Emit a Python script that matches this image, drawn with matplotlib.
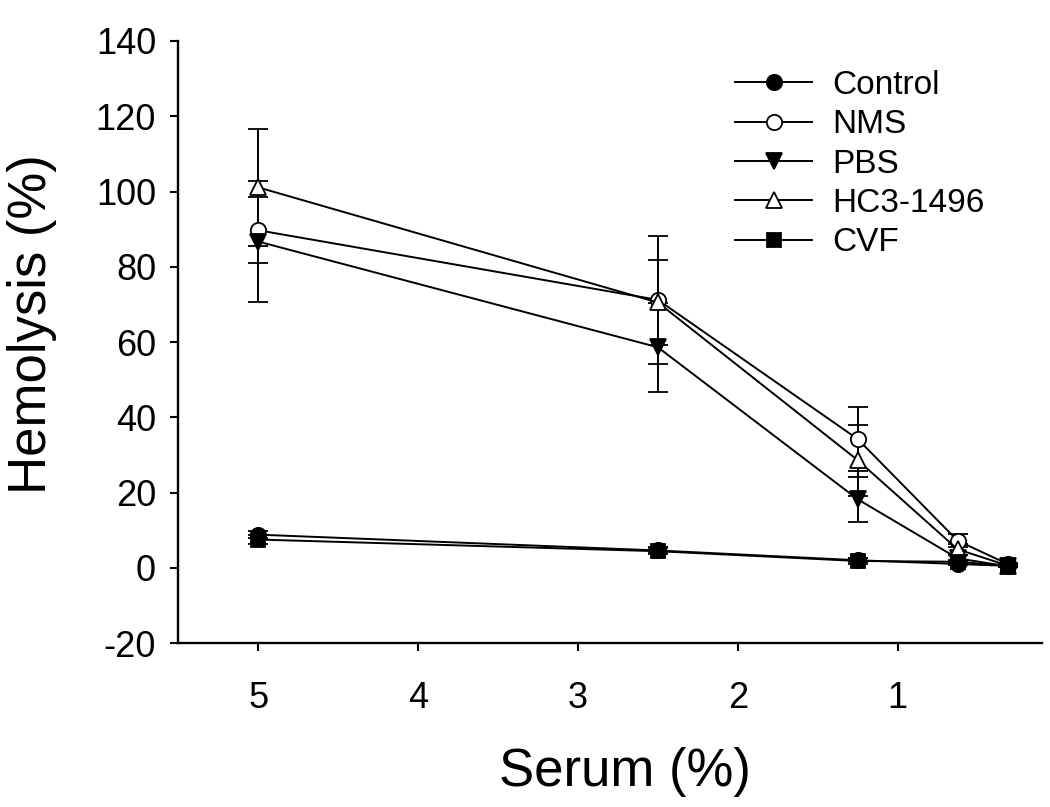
import matplotlib
matplotlib.use('Agg')
import matplotlib.pyplot as plt
from matplotlib.lines import Line2D

plt.rcParams['font.family'] = ['Liberation Sans', 'DejaVu Sans']
plt.rcParams['axes.unicode_minus'] = False

# serum concentrations (%)
serum = [5, 2.5, 1.25, 0.625, 0.3125]

control = [8.8, 4.6, 2.0, 1.0, 0.5]
control_err = [1.0, 0.8, 0.6, 0.3, 0.2]
nms = [89.7, 71.2, 34.2, 7.2, 1.0]
nms_err = [8.8, 17.0, 8.5, 1.8, 0.3]
pbs = [86.7, 58.6, 18.2, 2.5, 0.4]
pbs_err = [16.2, 11.8, 6.0, 1.0, 0.2]
hc3 = [101.1, 70.5, 28.6, 4.9, 0.6]
hc3_err = [15.5, 11.3, 9.4, 1.5, 0.3]
cvf = [7.5, 4.4, 1.8, 1.6, 0.5]
cvf_err = [1.2, 0.8, 0.8, 0.4, 0.2]

series = [
    ('Control', control, control_err, 'o', 'black', 11),
    ('NMS', nms, nms_err, 'o', 'white', 11),
    ('PBS', pbs, pbs_err, 'v', 'black', 11),
    ('HC3-1496', hc3, hc3_err, '^', 'white', 11),
    ('CVF', cvf, cvf_err, 's', 'black', 9.5),
]

fig = plt.figure(figsize=(10.5, 8.07), dpi=100)
ax = fig.add_axes([0.1698, 0.2032, 0.8226, 0.746])

handles = []
for name, vals, err, mk, face, ms in series:
    ax.errorbar(serum, vals, yerr=err, color='black', lw=1.4,
                marker=mk, markersize=ms, markerfacecolor=face,
                markeredgecolor='black', markeredgewidth=1.3,
                ecolor='black', elinewidth=1.4, capsize=7, capthick=1.4)
    handles.append(Line2D([], [], color='black', lw=1.4, marker=mk,
                          markersize=ms, markerfacecolor=face,
                          markeredgecolor='black', markeredgewidth=1.3,
                          label=name))

ax.set_xlim(5.5, 0.097)
ax.set_ylim(-20, 140)
ax.set_xticks([5, 4, 3, 2, 1])
ax.set_yticks(range(-20, 141, 20))

for side in ['top', 'right']:
    ax.spines[side].set_visible(False)
for side in ['left', 'bottom']:
    ax.spines[side].set_linewidth(1.7)

ax.tick_params(axis='both', direction='out', length=6, width=1.5,
               labelsize=26)
ax.tick_params(axis='y', pad=10)
ax.tick_params(axis='x', pad=21)

ax.set_xlabel('Serum (%)', fontsize=38)
ax.set_ylabel('Hemolysis (%)', fontsize=38)
ax.xaxis.set_label_coords(0.517, -0.172)
ax.yaxis.set_label_coords(-0.140, 0.53)

ax.legend(handles=handles, loc='upper left', bbox_to_anchor=(0.645, 0.952),
          frameon=False, fontsize=24, handlelength=2.3,
          handletextpad=0.6, labelspacing=0.25, borderpad=0,
          borderaxespad=0)

fig.savefig('out.png', dpi=100)
